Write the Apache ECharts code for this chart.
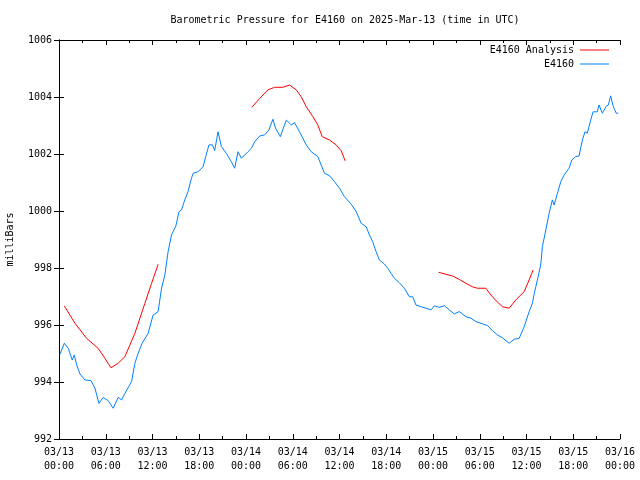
<!DOCTYPE html>
<html>
<head>
<meta charset="utf-8">
<script src="https://cdn.jsdelivr.net/npm/echarts@6/dist/echarts.min.js"></script>
<style>html,body{margin:0;padding:0;background:#fff}#c{width:640px;height:480px}</style>
</head>
<body>
<div id="c"></div>
<script>
// Hours since 2025-03-13 00:00 UTC
var obsHours = [0.13,0.68,1.19,1.70,1.96,2.27,2.69,3.33,4.10,4.61,5.12,5.68,6.32,6.96,7.60,8.03,8.46,9.31,9.74,10.16,10.67,11.44,12.08,12.72,13.16,13.58,14.00,14.44,14.99,15.41,15.72,16.14,16.56,17.00,17.21,17.85,18.49,18.83,19.25,19.69,19.98,20.41,20.84,21.48,22.12,22.55,22.97,23.41,24.25,24.69,25.11,25.75,26.39,26.94,27.45,27.80,28.40,29.17,29.81,30.23,30.87,31.73,32.37,33.22,34.08,34.72,35.36,36.00,36.64,37.50,38.14,38.78,39.42,39.84,40.26,40.70,41.12,41.76,42.19,42.62,43.04,43.68,44.33,44.97,45.39,45.82,46.47,47.10,47.75,48.17,48.81,49.45,50.09,50.73,51.37,52.23,52.87,53.51,54.36,55.00,55.64,56.28,56.92,57.78,58.42,59.06,59.70,60.34,60.76,60.98,61.40,61.84,62.04,62.48,62.90,63.32,63.54,63.97,64.40,64.82,65.46,65.81,66.32,66.74,67.17,67.51,67.81,68.24,68.54,69.09,69.31,69.73,70.24,70.50,70.80,71.14,71.52,71.78];
var obsValues = [994.97,995.36,995.18,994.77,994.95,994.60,994.28,994.07,994.05,993.79,993.25,993.46,993.34,993.08,993.46,993.37,993.60,994.01,994.66,995.01,995.36,995.71,996.35,996.47,997.29,997.75,998.57,999.16,999.47,999.98,1000.04,1000.39,1000.68,1001.15,1001.32,1001.38,1001.55,1001.91,1002.32,1002.32,1002.12,1002.78,1002.26,1002.02,1001.73,1001.50,1002.08,1001.85,1002.08,1002.20,1002.43,1002.63,1002.67,1002.84,1003.22,1002.90,1002.61,1003.19,1003.02,1003.10,1002.78,1002.32,1002.08,1001.91,1001.32,1001.24,1001.03,1000.80,1000.50,1000.24,999.98,999.57,999.45,999.16,998.92,998.57,998.28,998.14,997.99,997.81,997.64,997.48,997.29,996.99,996.99,996.70,996.64,996.59,996.53,996.67,996.62,996.68,996.53,996.39,996.47,996.29,996.24,996.12,996.04,995.98,995.80,995.65,995.55,995.36,995.50,995.53,995.94,996.47,996.76,997.09,997.58,998.14,998.75,999.33,999.92,1000.39,1000.21,1000.62,1001.03,1001.26,1001.50,1001.79,1001.91,1001.93,1002.49,1002.78,1002.73,1003.19,1003.48,1003.48,1003.72,1003.43,1003.68,1003.72,1004.04,1003.66,1003.43,1003.43];

var anaHours1 = [0.68,2.05,3.55,5.03,5.89,6.66,7.60,8.46,9.74,11.02,11.88,12.72];
var anaValues1 = [996.67,996.06,995.53,995.18,994.83,994.50,994.66,994.89,995.71,996.76,997.46,998.13];
var anaHours2 = [24.76,25.75,26.81,27.67,28.73,29.59,30.45,31.09,31.73,32.58,33.22,33.78,34.72,35.58,36.22,36.73];
var anaValues2 = [1003.64,1003.95,1004.25,1004.34,1004.34,1004.42,1004.25,1004.01,1003.66,1003.31,1003.02,1002.61,1002.49,1002.32,1002.11,1001.76];
var anaHours3 = [48.72,49.67,50.51,51.37,52.23,53.07,53.72,54.79,55.43,56.28,56.92,57.78,58.63,59.70,60.34,60.85];
var anaValues3 = [997.85,997.78,997.72,997.60,997.46,997.34,997.29,997.29,997.05,996.80,996.64,996.59,996.88,997.17,997.58,997.93];

var dayLabels = ['03/13','03/14','03/15','03/16'];
var titleText = 'Barometric Pressure for E4160 on 2025-Mar-13 (time in UTC)';

function pairs(xs, ys){ return xs.map(function(x,i){ return [x, ys[i]]; }); }

var FONT = 'DejaVu Sans Mono';
var RED = '#ff0000', BLUE = '#0080ff';

function xLabel(v){
  var d = Math.floor(v/24), h = v - d*24;
  return dayLabels[d] + '\n' + (h<10?'0':'') + h + ':00';
}

var chart = echarts.init(document.getElementById('c'), null, {renderer:'canvas'});
var axisLine = {show:true, lineStyle:{color:'#000', width:1}};
chart.setOption({
  animation:false,
  backgroundColor:'#fff',
  title:{text:titleText, left:340, textAlign:'center', top:10,
    textStyle:{fontFamily:FONT, fontSize:10, fontWeight:'normal', color:'#000'}},
  legend:{orient:'vertical', right:31, top:45, align:'right', itemGap:4, padding:0,
    itemWidth:29, itemHeight:10, data:[
      {name:'E4160 Analysis', icon:'path://M0,4.5 L29,4.5 L29,5.5 L0,5.5 Z'},
      {name:'E4160', icon:'path://M0,4.5 L29,4.5 L29,5.5 L0,5.5 Z'}],
    textStyle:{fontFamily:FONT, fontSize:10, color:'#000', padding:[0,1,0,0]}},
  grid:{left:59, right:20, top:40, bottom:41, containLabel:false, outerBoundsMode:'none'},
  xAxis:[{type:'value', min:0, max:72, interval:6, position:'bottom',
      axisLine:axisLine, axisTick:{inside:true, length:5, lineStyle:{color:'#000'}},
      minorTick:{show:true, splitNumber:2, length:3, lineStyle:{color:'#000'}},
      splitLine:{show:false},
      axisLabel:{formatter:xLabel, fontFamily:FONT, fontSize:10, color:'#000', lineHeight:14, margin:6}},
    {type:'value', min:0, max:72, interval:6, position:'top',
      axisLine:axisLine, axisTick:{inside:true, length:5, lineStyle:{color:'#000'}},
      minorTick:{show:true, splitNumber:2, length:3, lineStyle:{color:'#000'}},
      splitLine:{show:false}, axisLabel:{show:false}}],
  yAxis:[{type:'value', min:992, max:1006, interval:2, position:'left',
      name:'milliBars', nameLocation:'middle', nameRotate:90, nameGap:44,
      nameTextStyle:{fontFamily:FONT, fontSize:10, color:'#000'},
      axisLine:axisLine, axisTick:{inside:true, length:5, lineStyle:{color:'#000'}},
      splitLine:{show:false},
      axisLabel:{formatter:function(v){return String(v);}, fontFamily:FONT, fontSize:10, color:'#000', margin:7}},
    {type:'value', min:992, max:1006, interval:2, position:'right',
      axisLine:axisLine, axisTick:{inside:true, length:5, lineStyle:{color:'#000'}},
      splitLine:{show:false}, axisLabel:{show:false}}],
  series:[
    {name:'E4160 Analysis', type:'line', xAxisIndex:0, yAxisIndex:0, data:pairs(anaHours1, anaValues1),
      showSymbol:false, symbol:'none', lineStyle:{color:RED, width:1}, itemStyle:{color:RED}},
    {name:'E4160 Analysis', type:'line', xAxisIndex:0, yAxisIndex:0, data:pairs(anaHours2, anaValues2),
      showSymbol:false, symbol:'none', lineStyle:{color:RED, width:1}, itemStyle:{color:RED}},
    {name:'E4160 Analysis', type:'line', xAxisIndex:0, yAxisIndex:0, data:pairs(anaHours3, anaValues3),
      showSymbol:false, symbol:'none', lineStyle:{color:RED, width:1}, itemStyle:{color:RED}},
    {name:'E4160', type:'line', xAxisIndex:0, yAxisIndex:0, data:pairs(obsHours, obsValues),
      showSymbol:false, symbol:'none', lineStyle:{color:BLUE, width:1}, itemStyle:{color:BLUE}}
  ]
});
</script>
</body>
</html>
